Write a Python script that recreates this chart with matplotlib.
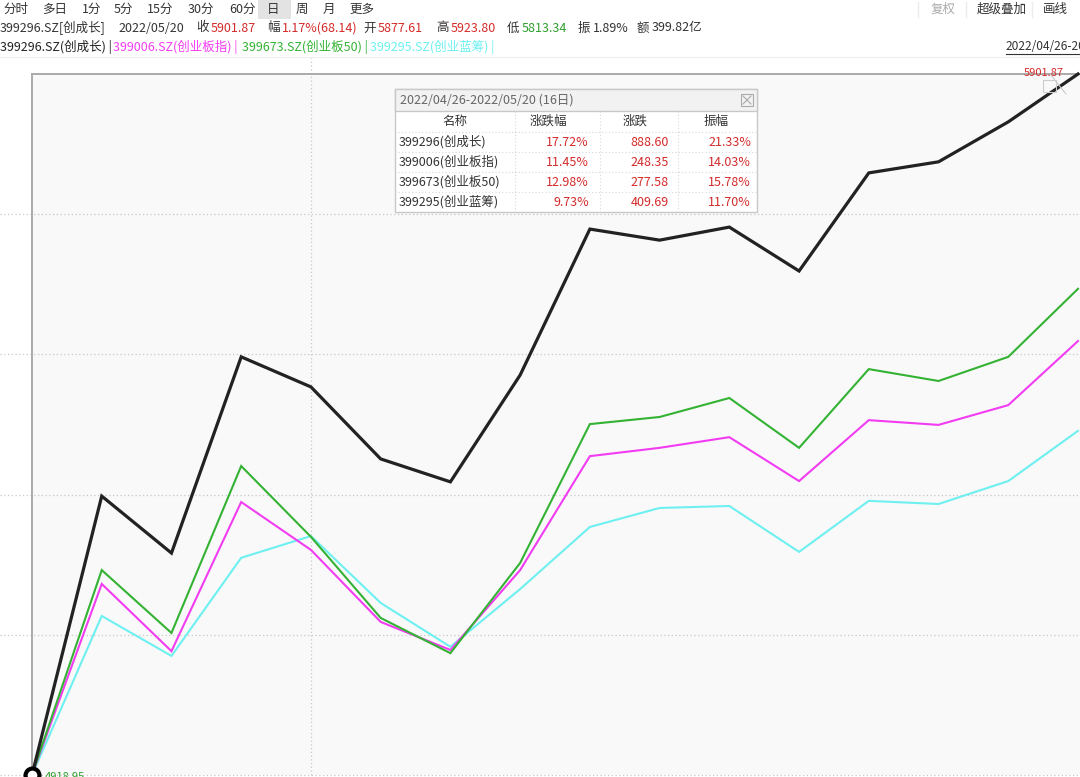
import matplotlib
matplotlib.use('Agg')
import matplotlib.pyplot as plt
from matplotlib.patches import Rectangle

plt.rcParams['font.family'] = ['Noto Sans CJK SC', 'DejaVu Sans']

# ---------------- data ----------------
dates = ['04/26', '04/27', '04/28', '04/29', '05/05', '05/06', '05/09', '05/10',
         '05/11', '05/12', '05/13', '05/16', '05/17', '05/18', '05/19', '05/20']
# relative change (%) since first day
cyz_399296 = [0, 7.05, 5.61, 10.57, 9.81, 7.99, 7.41, 10.11, 13.80, 13.52, 13.85,
              12.74, 15.22, 15.50, 16.51, 17.72]
cybz_399006 = [0, 4.83, 3.13, 6.90, 5.69, 3.87, 3.16, 5.18, 8.06, 8.27, 8.54,
               7.43, 8.97, 8.85, 9.35, 10.97]
cyb50_399673 = [0, 5.18, 3.59, 7.81, 6.02, 3.97, 3.08, 5.36, 8.87, 9.05, 9.53,
                8.27, 10.26, 9.96, 10.57, 12.29]
cylc_399295 = [0, 4.02, 3.01, 5.49, 6.04, 4.35, 3.24, 4.70, 6.27, 6.75, 6.80,
               5.64, 6.93, 6.85, 7.43, 8.70]

series_names = ['399296.SZ(创成长)', '399006.SZ(创业板指)', '399673.SZ(创业板50)', '399295.SZ(创业蓝筹)']
series_colors = ['#222222', '#f23cf2', '#33b233', '#6ef0f0']

table_names = ['399296(创成长)', '399006(创业板指)', '399673(创业板50)', '399295(创业蓝筹)']
table_pct = ['17.72%', '11.45%', '12.98%', '9.73%']
table_chg = ['888.60', '248.35', '277.58', '409.69']
table_amp = ['21.33%', '14.03%', '15.78%', '11.70%']
table_header = ['名称', '涨跌幅', '涨跌', '振幅']

toolbar = ['分时', '多日', '1分', '5分', '15分', '30分', '60分', '日', '周', '月', '更多']
last_close = '5901.87'
base_label = '4918.95'

RED = '#d42a2a'
GREEN = '#2e9e2e'
GRID = '#c8c8c8'

# ---------------- figure ----------------
W, H = 1080, 777
fig = plt.figure(figsize=(W / 100, H / 100), dpi=100)
fig.patch.set_facecolor('white')

ax = fig.add_axes([32 / W, 2 / H, 1048 / W, 701 / H])
ax.set_facecolor('#f9f9f9')
n = len(dates)
xs = list(range(n))
ymax = cyz_399296[-1]
ax.set_xlim(0, (n - 1) * 1048 / 1046)
ax.set_ylim(0, ymax)
ax.set_xticks([])
ax.set_yticks([])
for s in ['right', 'bottom']:
    ax.spines[s].set_visible(False)
for s in ['left', 'top']:
    ax.spines[s].set_color('#aaaaaa')
    ax.spines[s].set_linewidth(1.4)

# grid lines (extend into left margin)
for k in range(0, 5):
    ax.axhline(ymax * k / 5, xmin=-32 / 1048, xmax=1, color=GRID, ls=(0, (1, 2)),
               lw=0.9, clip_on=False, zorder=1)
ax.axvline(4, ymin=0, ymax=1 + 16 / 701, color=GRID, ls=(0, (1, 2)), lw=0.9,
           clip_on=False, zorder=1)

data = [cyz_399296, cybz_399006, cyb50_399673, cylc_399295]
widths = [2.3, 1.5, 1.5, 1.5]
orders = [6, 4, 5, 3]
for d, c, lw, z in zip(data, series_colors, widths, orders):
    ax.plot(xs, d, color=c, lw=lw, zorder=z, solid_joinstyle='miter', clip_on=False)

ax.plot(0, 0, 'o', ms=10, mfc='white', mec='black', mew=3, zorder=8, clip_on=False,
        transform=ax.transData)
ax.annotate(base_label, (0, 0), xytext=(9, -1.5), textcoords='offset points',
            color=GREEN, fontsize=8, va='center', ha='left', annotation_clip=False)
ax.annotate(last_close, (xs[-1], cyz_399296[-1]), xytext=(-10, 1), textcoords='offset points',
            color=RED, fontsize=8, va='center', ha='right', annotation_clip=False, zorder=9)

# ---------------- overlay (pixel coords) ----------------
ov = fig.add_axes([0, 0, 1, 1], zorder=10)
ov.set_xlim(0, W)
ov.set_ylim(H, 0)
ov.axis('off')
ov.patch.set_alpha(0)

FS = 9

# toolbar
tb_x = [3, 42, 82, 114, 147, 188, 229, 267, 296, 323, 349]
ov.add_patch(Rectangle((258, 0), 33, 19, fc='#e3e3e3', ec='none'))
for t, x in zip(toolbar, tb_x):
    ov.text(x, 9.5, t, fontsize=FS, color='#333333', va='center', ha='left')
ov.plot([918, 918], [2, 17], color='#ececec', lw=1)
ov.text(931, 9.5, '复权', fontsize=FS, color='#aaaaaa', va='center', ha='left')
ov.plot([966, 966], [2, 17], color='#ececec', lw=1)
ov.text(977, 9.5, '超级叠加', fontsize=FS, color='#333333', va='center', ha='left')
ov.plot([1032, 1032], [2, 17], color='#ececec', lw=1)
ov.text(1043, 9.5, '画线', fontsize=FS, color='#333333', va='center', ha='left')

# info row
info = [('399296.SZ[创成长]', 0, '#333333'), ('2022/05/20', 118, '#333333'),
        ('收', 196, '#333333'), ('5901.87', 211, RED),
        ('幅', 267, '#333333'), ('1.17%(68.14)', 282, RED),
        ('开', 363, '#333333'), ('5877.61', 378, RED),
        ('高', 436, '#333333'), ('5923.80', 451, RED),
        ('低', 507, '#333333'), ('5813.34', 522, GREEN),
        ('振', 578, '#333333'), ('1.89%', 593, '#333333'),
        ('额', 637, '#333333'), ('399.82亿', 652, '#333333')]
for t, x, c in info:
    ov.text(x, 28, t, fontsize=FS, color=c, va='center', ha='left')

# legend row
leg_x = [0, 113, 242, 370]
for name, c, x in zip(series_names, series_colors, leg_x):
    ov.text(x, 46.5, name + ' |', fontsize=FS, color=c, va='center', ha='left')
ov.text(1006, 46.5, '2022/04/26-2022/05/20', fontsize=8.6, color='#333333',
        va='center', ha='left')
ov.plot([1006, 1080], [54, 54], color='#333333', lw=0.8)
ov.plot([0, W], [57, 57], color='#eeeeee', lw=0.8)

# small icon near top right
ov.add_patch(Rectangle((1043, 80), 13, 12, fc='none', ec='#cccccc', lw=0.8))
ov.plot([1050, 1066], [74, 94], color='#cccccc', lw=0.8)

# ---------------- summary table ----------------
tx0, ty0, tw, th = 395, 89, 362, 123
ov.add_patch(Rectangle((tx0, ty0), tw, th, fc='white', ec='#c8c8c8', lw=1))
ov.add_patch(Rectangle((tx0, ty0), tw, 22, fc='#f2f2f2', ec='#c8c8c8', lw=1))
ov.text(400, 100.5, '2022/04/26-2022/05/20 (16日)', fontsize=FS, color='#666666',
        va='center', ha='left')
ov.add_patch(Rectangle((741, 94), 12, 12, fc='none', ec='#aaaaaa', lw=0.8))
ov.plot([743, 751], [96, 104], color='#aaaaaa', lw=0.8)
ov.plot([743, 751], [104, 96], color='#aaaaaa', lw=0.8)

col_div = [515, 600, 678]
for x in col_div:
    ov.plot([x, x], [111, ty0 + th], color='#d8d8d8', lw=0.8, ls=(0, (1, 2)))
for y in [132, 152, 172, 192]:
    ov.plot([tx0, tx0 + tw], [y, y], color='#d8d8d8', lw=0.8, ls=(0, (1, 2)))

hdr_x = [455, 548, 635, 716]
for t, x in zip(table_header, hdr_x):
    ov.text(x, 121.5, t, fontsize=FS, color='#333333', va='center', ha='center')

row_y = [142, 162, 182, 202]
for i, y in enumerate(row_y):
    ov.text(399, y, table_names[i], fontsize=FS, color='#333333', va='center', ha='left')
    ov.text(589, y, table_pct[i], fontsize=FS, color=RED, va='center', ha='right')
    ov.text(669, y, table_chg[i], fontsize=FS, color=RED, va='center', ha='right')
    ov.text(751, y, table_amp[i], fontsize=FS, color=RED, va='center', ha='right')

fig.savefig('out.png', dpi=100)
